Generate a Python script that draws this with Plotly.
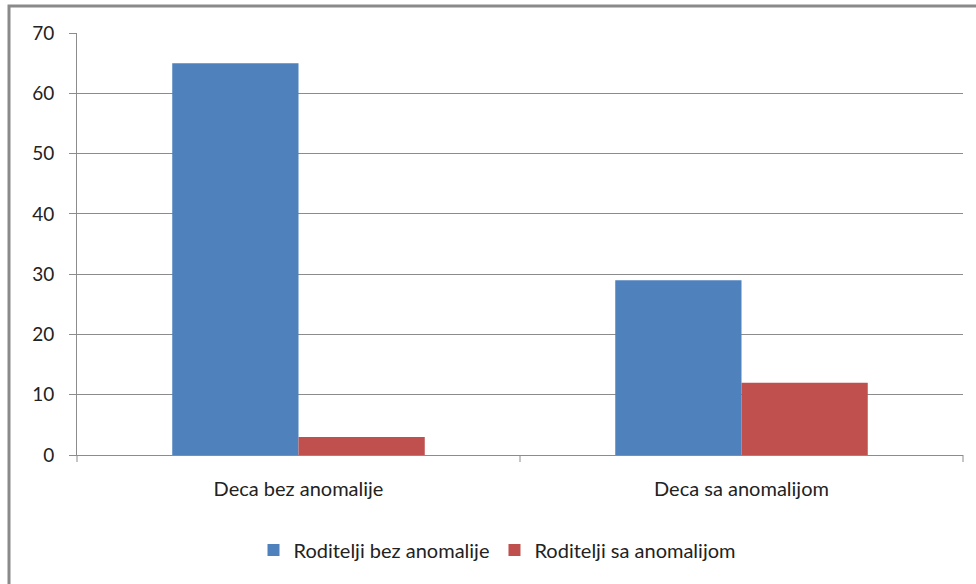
import plotly.graph_objects as go

categories = ["Deca bez anomalije", "Deca sa anomalijom"]
series_names = ["Roditelji bez anomalije", "Roditelji sa anomalijom"]
values_bez = [65, 29]
values_sa = [3, 12]
colors = ["#4F81BD", "#C0504D"]

W, H = 976, 584
L, R, T, B = 77, 13, 33, 129
pw, ph = W - L - R, H - T - B

fig = go.Figure()
for name, vals, c in zip(series_names, [values_bez, values_sa], colors):
    fig.add_trace(go.Bar(x=categories, y=vals, name=name, marker=dict(color=c, line=dict(width=0))))

font = dict(family="Lato, Open Sans, sans-serif", size=20, color="#222222")

def px_x(x):
    return (x - L) / pw

def px_y(y):
    return 1 - (y - T) / ph

fig.update_layout(
    width=W, height=H,
    margin=dict(l=L, r=R, t=T, b=B),
    paper_bgcolor="white", plot_bgcolor="white",
    barmode="group", bargap=0.43, bargroupgap=0,
    font=font,
    showlegend=True,
    legend=dict(orientation="h", x=px_x(497), xanchor="center", y=px_y(550), yanchor="middle",
                font=dict(size=20, color="#222222"), itemwidth=30, traceorder="normal"),
    xaxis=dict(showgrid=False, showline=True, linecolor="#8c8c8c", linewidth=1,
               ticks="outside", ticklen=0, tickfont=dict(size=20), ticklabelstandoff=16),
    yaxis=dict(range=[0, 70], dtick=10, showgrid=True, gridcolor="#8c8c8c", gridwidth=1,
               showline=True, linecolor="#8c8c8c", linewidth=1,
               ticks="outside", ticklen=7, tickcolor="#8c8c8c",
               tickfont=dict(size=19), zeroline=False, ticklabelstandoff=11),
    shapes=[
        dict(type="path", xref="paper", yref="paper",
             path=f"M {px_x(9)},{px_y(590)} L {px_x(9)},{px_y(6)} L {px_x(980)},{px_y(6)}",
             line=dict(color="#8a8a8a", width=3)),
        dict(type="line", xref="paper", yref="paper",
             x0=0.5, x1=0.5, y0=0, y1=px_y(462), line=dict(color="#8c8c8c", width=1)),
        dict(type="line", xref="paper", yref="paper",
             x0=0, x1=0, y0=0, y1=px_y(462), line=dict(color="#8c8c8c", width=1)),
        dict(type="line", xref="paper", yref="paper",
             x0=1, x1=1, y0=0, y1=px_y(462), line=dict(color="#8c8c8c", width=1)),
    ],
)

fig.write_html("out.html", config={"displayModeBar": False},
               post_script="document.body.style.margin='0px';")
